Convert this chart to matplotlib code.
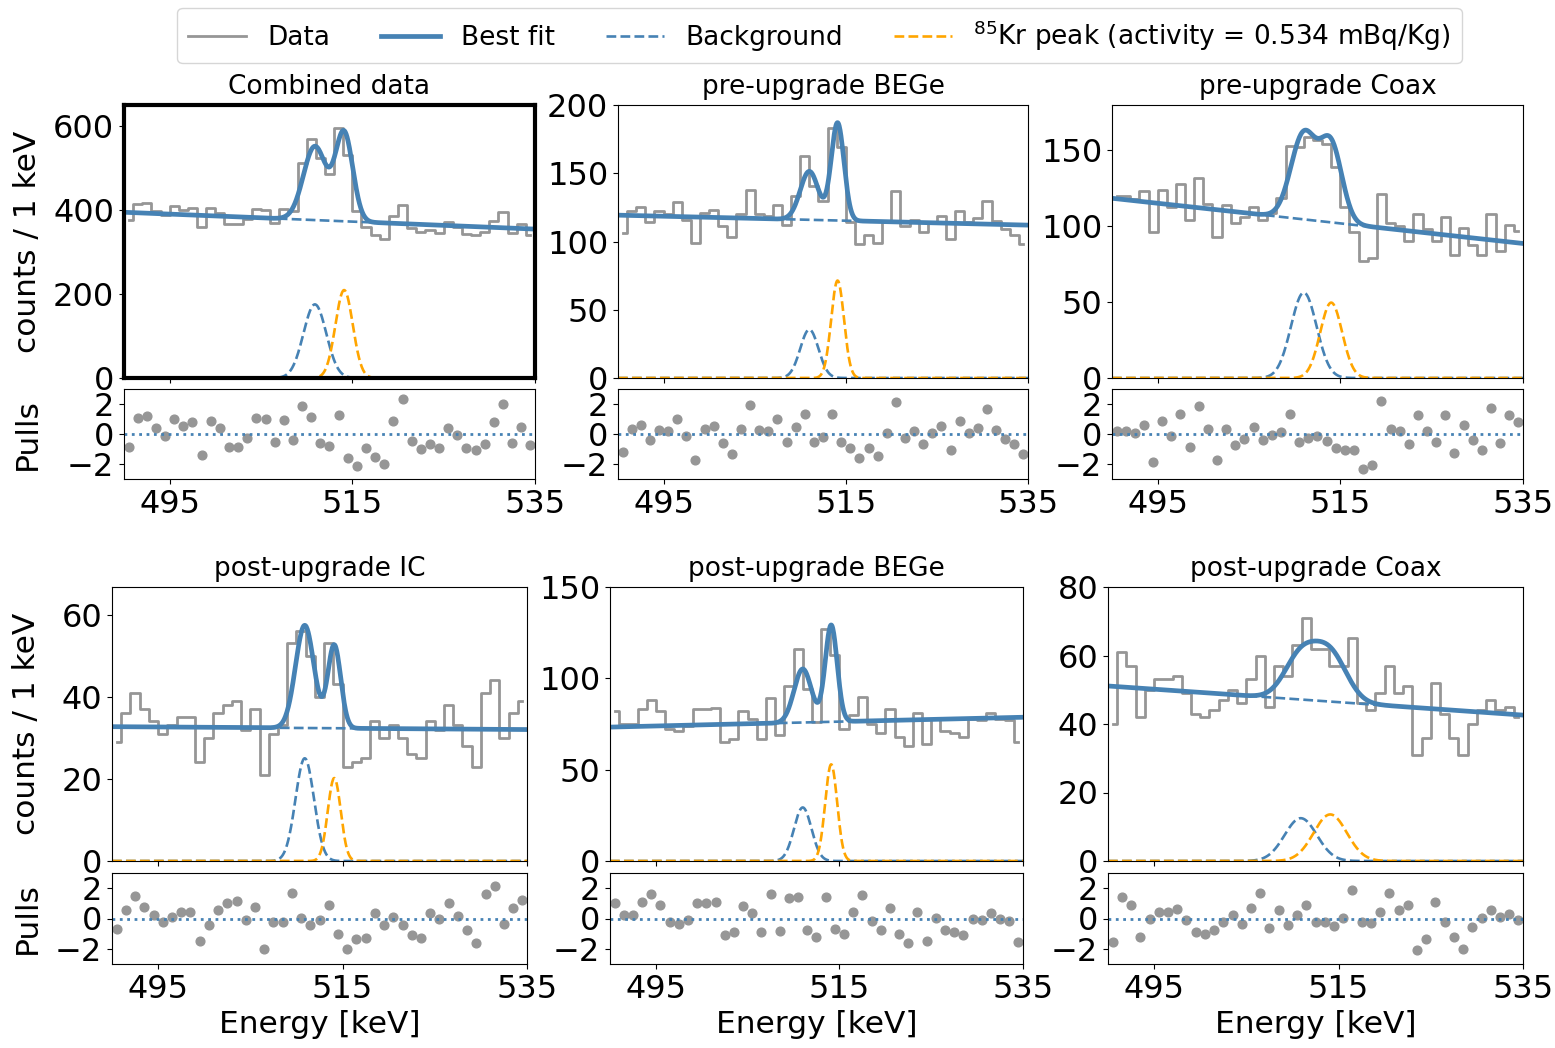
import numpy as np
import matplotlib
matplotlib.use("Agg")
import matplotlib.pyplot as plt
from matplotlib.lines import Line2D

# bin centres, 1 keV bins
energy = np.arange(490.5, 535, 1.0)

titles = ["Combined data", "pre-upgrade BEGe", "pre-upgrade Coax",
          "post-upgrade IC", "post-upgrade BEGe", "post-upgrade Coax"]

# counts per bin
counts_combined = [376, 413, 416, 398, 388, 408, 399, 403, 359, 403, 392, 367, 366, 377, 402,
                   399, 369, 401, 397, 511, 569, 522, 484, 595, 529, 398, 360, 341, 331, 384,
                   412, 357, 346, 352, 345, 370, 360, 342, 339, 346, 374, 395, 345, 365, 340]
counts_pre_bege = [106, 122, 125, 114, 122, 120, 129, 116, 99, 121, 123, 111, 103, 120, 138,
                   120, 119, 127, 112, 133, 163, 141, 130, 183, 169, 114, 98, 105, 99, 115,
                   137, 111, 116, 107, 114, 119, 102, 122, 114, 117, 130, 115, 109, 105, 98]
counts_pre_coax = [120, 120, 118, 123, 96, 124, 113, 128, 104, 132, 115, 93, 114, 102, 106,
                   113, 104, 109, 119, 153, 152, 159, 157, 154, 139, 113, 96, 77, 79, 121,
                   102, 100, 90, 108, 98, 90, 106, 81, 99, 88, 81, 108, 84, 101, 97]
counts_post_ic = [29, 36, 41, 37, 34, 31, 33, 35, 35, 24, 30, 36, 38, 39, 32,
                  37, 21, 31, 33, 53, 56, 50, 40, 53, 43, 23, 24, 25, 34, 30,
                  33, 30, 26, 25, 34, 32, 38, 33, 28, 23, 41, 44, 30, 36, 39]
counts_post_bege = [82, 75, 75, 83, 88, 82, 72, 71, 74, 83, 83, 84, 65, 67, 82,
                    78, 67, 89, 69, 96, 116, 94, 76, 127, 113, 72, 80, 90, 75, 70,
                    83, 68, 63, 81, 64, 78, 71, 70, 68, 78, 77, 81, 78, 77, 65]
counts_post_coax = [40, 61, 57, 42, 50, 53, 53, 54, 49, 43, 42, 44, 47, 50, 46,
                    53, 60, 45, 57, 54, 63, 71, 62, 62, 57, 57, 65, 46, 44, 49,
                    57, 49, 51, 31, 36, 52, 43, 36, 31, 40, 44, 47, 44, 45, 42]
counts = [counts_combined, counts_pre_bege, counts_pre_coax,
          counts_post_ic, counts_post_bege, counts_post_coax]

# pulls per bin
pulls = [
    [-0.87, 1.04, 1.2, 0.38, -0.11, 0.98, 0.56, 0.82, -1.38, 0.89, 0.38, -0.87, -0.87, -0.24, 1.09,
     0.98, -0.56, 0.93, -0.42, 1.89, 1.13, -0.6, -0.8, 1.27, -1.58, -2.11, -0.96, -1.51, -1.98, 0.87,
     2.33, -0.47, -1.0, -0.64, -0.96, 0.4, -0.09, -0.96, -1.09, -0.67, 0.82, 2.0, -0.58, 0.49, -0.76],
    [-1.2, 0.31, 0.6, -0.4, 0.27, 0.18, 1.02, -0.16, -1.73, 0.33, 0.53, -0.58, -1.31, 0.31, 1.91,
     0.27, 0.18, 0.98, -0.53, 0.47, 1.31, -0.53, -0.18, 1.31, -0.53, -0.93, -1.58, -0.93, -1.47, 0.07,
     2.16, -0.29, 0.22, -0.64, 0.04, 0.51, -1.04, 0.84, 0.09, 0.4, 1.64, 0.27, -0.31, -0.69, -1.33],
    [0.18, 0.22, 0.09, 0.62, -1.84, 0.87, -0.13, 1.36, -0.87, 1.87, 0.33, -1.73, 0.33, -0.76, -0.31,
     0.44, -0.38, -0.04, 0.16, 1.31, -0.51, -0.27, -0.11, -0.49, -0.96, -1.04, -1.04, -2.36, -2.04, 2.2,
     0.33, 0.22, -0.67, 1.24, 0.22, -0.56, 1.24, -1.27, 0.58, -0.4, -1.07, 1.73, -0.62, 1.24, 0.8],
    [-0.66, 0.57, 1.47, 0.75, 0.26, -0.26, 0.07, 0.44, 0.44, -1.49, -0.46, 0.59, 0.99, 1.14, -0.09,
     0.79, -2.02, -0.24, -0.2, 1.71, 0.04, -0.4, -0.13, 0.9, -0.99, -1.98, -1.38, -1.3, 0.33, -0.4,
     0.13, -0.4, -1.1, -1.27, 0.35, -0.02, 1.05, 0.15, -0.73, -1.6, 1.6, 2.13, -0.35, 0.7, 1.25],
    [1.05, 0.2, 0.2, 1.1, 1.6, 0.88, -0.2, -0.33, -0.09, 1.03, 1.03, 1.1, -1.12, -0.88, 0.84,
     0.37, -0.92, 1.6, -0.81, 1.32, 1.43, -0.75, -1.19, 1.45, -0.68, -1.03, 0.44, 1.58, -0.18, -0.77,
     0.7, -1.01, -1.6, 0.44, -1.49, 0.04, -0.75, -0.86, -1.12, 0.0, -0.11, 0.35, -0.02, -0.15, -1.54],
    [-1.54, 1.45, 0.92, -1.19, -0.04, 0.44, 0.44, 0.64, -0.09, -0.9, -1.01, -0.73, -0.24, 0.24, -0.33,
     0.68, 1.65, -0.64, 0.59, -0.44, 0.24, 0.92, -0.26, -0.22, -0.51, 0.02, 1.87, -0.26, -0.31, 0.44,
     1.69, 0.55, 0.9, -2.09, -1.32, 1.12, -0.2, -1.23, -1.98, -0.59, 0.02, 0.55, 0.09, 0.29, -0.13],
]

# fit parameters: linear bkg (value at 490, value at 535), 511 peak (amp, mu, sigma), Kr peak (amp, mu, sigma)
bkg_lo = [394, 119.3, 118.5, 32.7, 73.3, 51.1]
bkg_hi = [354, 112.0, 88.7, 32.0, 78.7, 42.6]
ann_amp = [175, 35.5, 56.3, 25.0, 29.3, 12.5]
ann_mu = [510.9, 511.0, 511.0, 510.9, 511.0, 510.9]
ann_sig = [1.25, 1.0, 1.4, 1.0, 0.95, 1.75]
kr_amp = [209, 71.4, 49.7, 20.2, 52.9, 13.6]
kr_mu = [514.1, 514.1, 514.0, 514.1, 514.1, 514.1]
kr_sig = [0.95, 0.7, 1.2, 0.7, 0.65, 1.8]

y_max = [649, 200, 180, 66.7, 150, 80]
y_ticks = [[0, 200, 400, 600], [0, 50, 100, 150, 200], [0, 50, 100, 150],
           [0, 20, 40, 60], [0, 50, 100, 150], [0, 20, 40, 60, 80]]

# axes positions in pixels (left, right) and rows (top, bottom) of the 1555x1048 figure
W, H = 1555, 1048
cols = [(124, 535), (618, 1028), (1112, 1523), (112, 527), (610, 1023), (1108, 1523)]
main_rows = [(105, 378), (587, 861)]
pull_rows = [(389, 479), (873, 964)]

grey = "#969696"
blue = "steelblue"

def gauss(x, a, mu, s):
    return a * np.exp(-(x - mu) ** 2 / (2 * s ** 2))

fig = plt.figure(figsize=(W / 100, H / 100), dpi=100)
xf = np.linspace(490, 535, 900)

for i in range(6):
    row = i // 3
    l, r = cols[i]
    t, b = main_rows[row]
    ax = fig.add_axes([l / W, 1 - b / H, (r - l) / W, (b - t) / H])
    t, b = pull_rows[row]
    axp = fig.add_axes([l / W, 1 - b / H, (r - l) / W, (b - t) / H], sharex=ax)

    bkg = bkg_lo[i] + (bkg_hi[i] - bkg_lo[i]) * (xf - 490) / 45
    g1 = gauss(xf, ann_amp[i], ann_mu[i], ann_sig[i])
    g2 = gauss(xf, kr_amp[i], kr_mu[i], kr_sig[i])

    ax.step(energy, counts[i], where="mid", color=grey, lw=2)
    ax.plot(xf, bkg, "--", color=blue, lw=1.9)
    ax.plot(xf, g1, "--", color=blue, lw=1.9)
    ax.plot(xf, g2, "--", color="orange", lw=1.9)
    ax.plot(xf, bkg + g1 + g2, "-", color=blue, lw=3.4)

    ax.set_xlim(490, 535)
    ax.set_ylim(0, y_max[i])
    ax.set_yticks(y_ticks[i])
    ax.set_xticks([495, 515, 535])
    ax.tick_params(labelsize=23, labelbottom=False)
    ax.set_title(titles[i], fontsize=19, pad=8)

    axp.plot(energy, pulls[i], "o", color=grey, ms=6.3)
    axp.axhline(0, ls=":", color=blue, lw=2)
    axp.set_ylim(-3, 3)
    axp.set_yticks([-2, 0, 2])
    axp.tick_params(labelsize=23)

    if i % 3 == 0:
        ax.set_ylabel("counts / 1 keV", fontsize=22.5)
        axp.set_ylabel("Pulls", fontsize=22.5)
        lx = -0.2 if i == 0 else -0.17
        ax.yaxis.set_label_coords(lx, 0.5)
        axp.yaxis.set_label_coords(lx, 0.5)
    if row == 1:
        axp.set_xlabel("Energy [keV]", fontsize=22.5)

    if i == 0:
        for sp in ax.spines.values():
            sp.set_linewidth(3)

handles = [Line2D([], [], color=grey, lw=2),
           Line2D([], [], color=blue, lw=3.4),
           Line2D([], [], color=blue, lw=1.9, ls="--"),
           Line2D([], [], color="orange", lw=1.9, ls="--")]
labels = ["Data", "Best fit", "Background", "$^{85}$Kr peak (activity = 0.534 mBq/Kg)"]
fig.legend(handles, labels, loc="center", bbox_to_anchor=(0.527, 0.966), ncol=4,
           fontsize=19, handlelength=2.2, handletextpad=0.8, columnspacing=1.95)

fig.savefig("out.png")
